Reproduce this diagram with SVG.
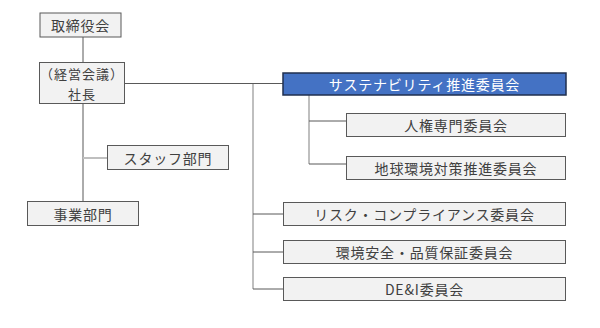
<svg xmlns="http://www.w3.org/2000/svg" width="600" height="328" viewBox="0 0 600 328">
<style>
.box{fill:#f2f2f2;stroke:#595959;stroke-width:1}
.blue{fill:#4472c4;stroke:#1f2f4f;stroke-width:1.5}
text{font-family:"Noto Sans CJK JP","Noto Sans",sans-serif;font-size:14px;fill:#404040;text-anchor:middle;dominant-baseline:central;letter-spacing:0.8px}
.sm{font-size:13px;letter-spacing:1px}
.w{fill:#ffffff}
.dk{stroke:#595959;stroke-width:1;fill:none}
.lt{stroke:#bfbfbf;stroke-width:2;fill:none}
</style>
<rect width="600" height="328" fill="#ffffff"/>
<g id="connectors">
<line class="dk" x1="83" y1="37" x2="83" y2="62"/>
<line class="dk" x1="83" y1="104" x2="83" y2="201"/>
<line class="lt" x1="83" y1="158" x2="107" y2="158"/>
<line class="lt" x1="253" y1="84" x2="253" y2="289"/>
<line class="dk" x1="125" y1="83.5" x2="283" y2="83.5"/>
<line class="lt" x1="309" y1="95" x2="309" y2="164"/>
<line class="dk" x1="309" y1="121" x2="346" y2="121"/>
<line class="dk" x1="309" y1="164" x2="346" y2="164"/>
<line class="dk" x1="253" y1="214" x2="283" y2="214"/>
<line class="dk" x1="253" y1="252" x2="283" y2="252"/>
<line class="dk" x1="253" y1="289" x2="283" y2="289"/>
</g>
<g id="board"><rect class="box" x="40" y="13" width="81" height="24"/><text x="80.5" y="25">取締役会</text></g>
<g id="president"><rect class="box" x="39.5" y="62.5" width="85" height="41"/><text class="sm" x="82" y="73">（経営会議）</text><text class="sm" x="82" y="93">社長</text></g>
<g id="staff"><rect class="box" x="107.5" y="145.5" width="121" height="24"/><text x="168" y="157.5">スタッフ部門</text></g>
<g id="business"><rect class="box" x="27.5" y="201.5" width="111" height="24"/><text x="83" y="213.5">事業部門</text></g>
<g id="sustainability"><rect class="blue" x="283" y="73" width="283" height="22"/><text class="w" x="424.5" y="84">サステナビリティ推進委員会</text></g>
<g id="human-rights"><rect class="box" x="346.5" y="113.5" width="219" height="23"/><text x="456" y="125">人権専門委員会</text></g>
<g id="global-env"><rect class="box" x="346.5" y="156.5" width="219" height="23"/><text x="456" y="168">地球環境対策推進委員会</text></g>
<g id="risk"><rect class="box" x="283.5" y="202.5" width="282" height="23"/><text x="424.5" y="214">リスク・コンプライアンス委員会</text></g>
<g id="env-safety"><rect class="box" x="283.5" y="240.5" width="282" height="23"/><text x="424.5" y="252">環境安全・品質保証委員会</text></g>
<g id="dei"><rect class="box" x="283.5" y="277.5" width="282" height="23"/><text x="424.5" y="289">DE&amp;I委員会</text></g>
</svg>
